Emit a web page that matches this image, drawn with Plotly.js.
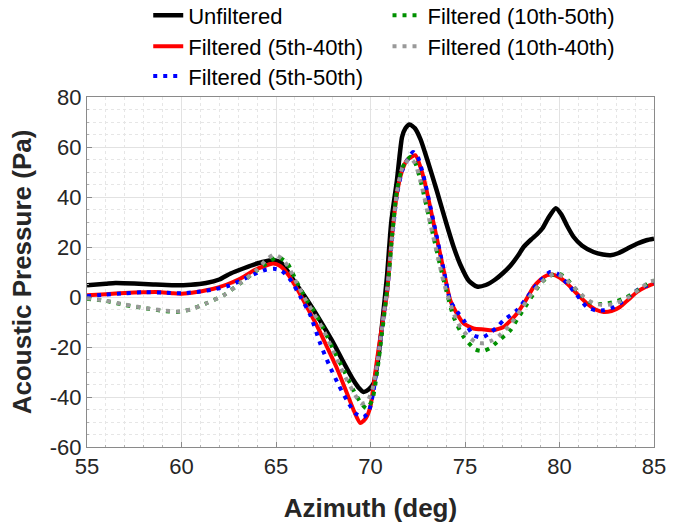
<!DOCTYPE html>
<html>
<head>
<meta charset="utf-8">
<script src="https://cdn.plot.ly/plotly-3.0.1.min.js"></script>
<style>html,body{margin:0;padding:0;background:#fff;}#chart{width:684px;height:523px;}</style>
</head>
<body>
<div id="chart"></div>
<script>
// Azimuth (deg) / Acoustic Pressure (Pa)
const unfilteredX = [55, 56, 56.5, 57.5, 58.5, 59.5, 60.5, 61.3, 62, 62.6, 63.3, 64, 64.85, 65.3, 65.93, 66.5, 67, 67.5, 68.05, 68.6, 69.1, 69.4, 69.63, 69.9, 70.16, 70.4, 70.6, 70.87, 71.1, 71.4, 71.67, 71.85, 72.07, 72.35, 72.65, 73.0, 73.5, 74.05, 74.4, 74.75, 75.2, 75.63, 76.1, 76.6, 77.0, 77.4, 77.8, 78.1, 78.5, 78.8, 79.1, 79.4, 79.8, 80.1, 80.4, 80.75, 81.2, 81.8, 82.3, 82.7, 83.1, 83.6, 84.1, 84.6, 85];
const unfilteredY = [4.7, 5.3, 5.6, 5.4, 5.0, 4.7, 4.9, 5.6, 7.0, 9.4, 11.5, 13.4, 14.8, 13.5, 6.7, 0.5, -5.3, -11.5, -18.6, -26.5, -33.3, -36.5, -38, -37, -34.6, -25, -12, 8, 30, 46.7, 64, 67.5, 69, 67.5, 63, 55, 42.7, 28.5, 20, 13, 6.5, 4.2, 4.8, 7, 9.5, 12.5, 16.5, 20, 23, 25, 27.5, 31.5, 35.5, 33, 28.5, 24, 20.5, 18, 17, 16.7, 17.5, 19.4, 21.3, 22.7, 23.3];

const f540X = [55, 56, 57, 58, 58.7, 59.5, 60, 60.8, 61.7, 62.4, 63.1, 63.8, 64.5, 64.85, 65.2, 65.6, 66.1, 66.64, 67.2, 67.7, 68.25, 68.76, 69.15, 69.46, 69.75, 69.99, 70.34, 70.6, 70.87, 71.05, 71.4, 71.65, 71.93, 72.37, 72.8, 73.34, 73.87, 74.22, 74.6, 74.93, 75.45, 76, 76.5, 77.04, 77.4, 77.75, 78.2, 78.63, 79.0, 79.34, 79.6, 80, 80.4, 80.9, 81.45, 81.9, 82.33, 82.75, 83.2, 83.65, 84.1, 84.55, 85];
const f540Y = [0.7, 1.1, 1.6, 1.9, 2.0, 1.5, 1.3, 2.0, 3.3, 5, 7.3, 10.5, 12.7, 13.4, 12.5, 9.4, 3.5, -4, -12, -20, -29, -38.6, -46, -50.4, -48.5, -44, -25.3, -12, 1.3, 17.4, 41.4, 50, 54.7, 56.7, 48, 29.4, 10.7, -1.3, -7, -10.6, -12.6, -13, -13.3, -12, -9.5, -6.6, -1.5, 4, 7, 8.7, 9, 7.8, 5.4, 1.5, -2.6, -5, -6, -5.6, -4, -1, 2, 4, 5.4];

const f550X = [55, 56, 57, 58, 59, 60, 61, 61.7, 62.5, 63.1, 63.8, 64.5, 64.9, 65.3, 65.8, 66.3, 66.8, 67.34, 67.8, 68.3, 68.8, 69.2, 69.63, 69.9, 70.15, 70.4, 70.65, 70.9, 71.1, 71.4, 71.7, 72.25, 72.5, 72.8, 73.34, 73.87, 74.22, 74.6, 74.93, 75.45, 75.9, 76.3, 76.7, 77.04, 77.75, 78.3, 78.8, 79.5, 79.9, 80.4, 80.9, 81.45, 81.9, 82.33, 82.8, 83.3, 84.1, 84.6, 85];
const f550Y = [0.3, 1.0, 1.5, 1.9, 1.8, 1.5, 2.2, 3, 4.5, 6.5, 9, 11, 11.3, 10.5, 6.5, 0, -7, -18.6, -27, -35, -42, -46.5, -48, -46, -38, -24, -10, 4, 20, 41, 51, 58, 56, 48.5, 30, 11, -1.5, -6, -9.3, -15.3, -16.2, -14.5, -12, -9.3, -5.3, 0, 5, 10, 9.3, 5.5, 1, -4, -5.3, -5.3, -4.3, -2, 2.7, 4.5, 5.4];

const f1050X = [55, 56, 57, 58.17, 59, 59.76, 60.47, 61, 61.35, 62.23, 63.1, 64, 64.6, 65.1, 65.6, 66.1, 66.6, 67, 67.5, 68.05, 68.6, 69.1, 69.5, 69.8, 70.1, 70.35, 70.6, 70.96, 71.15, 71.4, 71.7, 72.1, 72.35, 72.64, 73.17, 73.7, 73.87, 74.4, 74.93, 75.55, 75.98, 76.3, 76.7, 77.4, 77.8, 78.3, 79, 79.5, 79.95, 80.35, 80.75, 81.2, 81.6, 82.1, 82.5, 83, 83.57, 84.2, 84.8, 85];
const f1050Y = [-0.7, -1.6, -3.2, -4.6, -5.5, -6, -5, -3.5, -2.4, 0.7, 5.4, 10.7, 14, 16, 13.5, 6, -1, -5.5, -12.5, -21.3, -29.5, -37.3, -42.5, -44.6, -41, -30, -15, 8, 25, 42.7, 52, 56, 54, 46.7, 29.4, 12, 6.7, -8, -16, -21, -21.6, -20.5, -18, -13.3, -8.5, -2.6, 5.4, 8.5, 9.4, 7.5, 4, 0.5, -2, -2.8, -2.6, -1.7, 0, 3, 6, 6.5];

const f1040X = [55, 56, 57, 58.17, 59, 59.76, 60.47, 61.35, 62.23, 63.1, 64, 64.5, 64.9, 65.3, 65.7, 66.1, 66.6, 67, 67.5, 68.05, 68.6, 69.1, 69.5, 69.8, 70.1, 70.35, 70.6, 70.96, 71.15, 71.4, 71.7, 72.1, 72.35, 72.64, 73.17, 73.7, 73.87, 74.4, 74.75, 75.2, 75.6, 76, 76.4, 76.8, 77.4, 78, 78.6, 79.2, 79.8, 80.2, 80.75, 81.3, 81.8, 82.4, 83, 83.6, 84.2, 84.8, 85];
const f1040Y = [-0.5, -1.5, -3, -4.5, -5.3, -5.8, -5, -2.4, 0.7, 5.5, 11, 15, 17, 15.5, 11.5, 5.5, -1.5, -6.5, -13, -22, -31, -38, -42.6, -42, -37, -27, -13, 8.5, 25, 42, 52, 55.5, 53.5, 46.5, 29, 11.5, 6, -6.5, -12, -16, -18.2, -18.5, -17.5, -15.5, -11, -4.5, 2, 7, 9.5, 8, 4, 0, -2.5, -3.3, -2.4, -0.3, 3, 6.2, 6.5];

const seriesNames = ['Unfiltered', 'Filtered (5th-40th)', 'Filtered (5th-50th)', 'Filtered (10th-50th)', 'Filtered (10th-40th)'];
const xTickVals = [55, 60, 65, 70, 75, 80, 85];
const yTickVals = [-60, -40, -20, 0, 20, 40, 60, 80];

const FONT = 'Liberation Sans, Arial, sans-serif';
const dotted = '4px,6px';
const mk = (x, y, name, color, width, dash, legend) => ({
  type: 'scatter', mode: 'lines', x: x, y: y, name: name, legend: legend,
  line: {color: color, width: width, dash: dash, shape: 'spline', smoothing: 0.6}
});

const traces = [
  mk(unfilteredX, unfilteredY, seriesNames[0], '#000000', 4.5, 'solid', 'legend'),
  mk(f540X, f540Y, seriesNames[1], '#ff0000', 4, 'solid', 'legend2'),
  mk(f550X, f550Y, seriesNames[2], '#0000ff', 4, dotted, 'legend3'),
  mk(f1050X, f1050Y, seriesNames[3], '#009000', 4, dotted, 'legend4'),
  mk(f1040X, f1040Y, seriesNames[4], '#999999', 4, dotted, 'legend5')
];

const axisCommon = {
  showline: true, mirror: true, linecolor: '#8a8a8a', linewidth: 1,
  ticks: 'inside', ticklen: 5, tickcolor: '#8a8a8a',
  showgrid: true, gridcolor: '#e2e2e2', gridwidth: 1,
  zeroline: false,
  tickfont: {family: FONT, size: 22, color: '#262626'}
};

const legendFont = {family: FONT, size: 22, color: '#000'};
const mkLegend = (x, y) => ({x: x, y: y, xanchor: 'left', yanchor: 'middle', orientation: 'v',
  font: legendFont, bgcolor: 'rgba(0,0,0,0)', borderwidth: 0});

const layout = {
  width: 684, height: 523,
  margin: {l: 87, r: 30, t: 97, b: 76, autoexpand: false},
  paper_bgcolor: '#ffffff', plot_bgcolor: '#ffffff',
  font: {family: FONT, color: '#000'},
  xaxis: Object.assign({}, axisCommon, {
    range: [55, 85], tickvals: xTickVals, ticktext: xTickVals.map(String),
    minor: {dtick: 1, tick0: 55, showgrid: true, gridcolor: '#e6e6e6', griddash: 'dot', ticks: 'inside', ticklen: 2, tickcolor: '#b0b0b0'},
    title: {text: '<b>Azimuth (deg)</b>', font: {family: FONT, size: 26, color: '#262626'}, standoff: 21},
    automargin: false
  }),
  yaxis: Object.assign({}, axisCommon, {
    range: [-60, 80], tickvals: yTickVals, ticktext: yTickVals.map(String),
    minor: {dtick: 5, tick0: 0, showgrid: true, gridcolor: '#e6e6e6', griddash: 'dot', ticks: 'inside', ticklen: 2, tickcolor: '#b0b0b0'},
    title: {text: '<b>Acoustic Pressure (Pa)</b>', font: {family: FONT, size: 26, color: '#262626'}, standoff: 10},
    automargin: false
  }),
  showlegend: true,
  legend: mkLegend(0.108, 1.2332),
  legend2: mkLegend(0.108, 1.1447),
  legend3: mkLegend(0.108, 1.0591),
  legend4: mkLegend(0.53, 1.2332),
  legend5: mkLegend(0.53, 1.1447)
};

Plotly.newPlot('chart', traces, layout, {displayModeBar: false, staticPlot: true});
</script>
</body>
</html>
